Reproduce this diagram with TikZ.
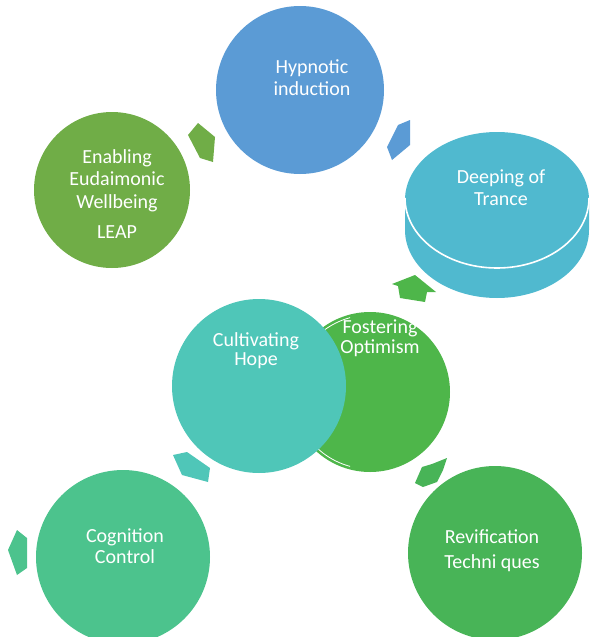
\documentclass[tikz,border=0pt]{standalone}
\usepackage{fontspec}
\setmainfont{Carlito}
\definecolor{cblue}{HTML}{5B9BD5}
\definecolor{cleap}{HTML}{70AD47}
\definecolor{ctrance}{HTML}{50B9CF}
\definecolor{coptim}{HTML}{4EB64A}
\definecolor{chope}{HTML}{4FC6B8}
\definecolor{ccog}{HTML}{4CC38D}
\definecolor{crevif}{HTML}{48B457}
\newcommand{\lines}[2]{{\fontsize{20}{#1}\selectfont\setlength{\tabcolsep}{0pt}\renewcommand{\arraystretch}{1}\begin{tabular}[t]{c}#2\end{tabular}}}
\begin{document}
\begin{tikzpicture}[x=1pt,y=-1pt,
  lbl/.style={text=white, inner sep=0pt, anchor=base}]
\useasboundingbox (0,0) rectangle (590,637);
% circles
\fill[cleap] (112,190) circle[radius=78];
\node[lbl] (leap) at (117,163) {\lines{22.5}{Enabling\\Eudaimonic\\Wellbeing\\[7.5pt]LEAP}};
\fill[cblue] (300,90) circle[radius=84];
\node[lbl] (hyp) at (312,73) {\lines{22}{Hypnotic\\induction}};
% deeping of trance disc
\fill[ctrance] (405,200) -- (405,230) arc[start angle=180,end angle=0,x radius=92,y radius=68] -- (589,200) -- cycle;
\fill[ctrance] (497,200) ellipse[x radius=92,y radius=68];
\draw[white,line width=1.6pt] (405,198) arc[start angle=180,end angle=0,x radius=92,y radius=70];
\node[lbl] (trance) at (501,183) {\lines{22}{Deeping of\\Trance}};
% fostering optimism
\fill[coptim] (370,392) circle[radius=80];
\draw[white,line width=0.8pt] (370,392) ++(105:77) arc[start angle=105,end angle=255,radius=77];
\node[lbl] (optim) at (380,333) {\lines{20}{Fostering\\Optimism}};
% cultivating hope
\fill[chope] (259,386) circle[radius=87];
\node[lbl] (hope) at (256,346) {\lines{19.5}{Cultivating\\Hope}};
% cognition control
\fill[ccog] (123,557) circle[radius=87];
\node[lbl] (cog) at (125,542) {\lines{21}{Cognition\\Control}};
% revification
\fill[crevif] (495,553) circle[radius=87];
\node[lbl] (rev) at (492,543) {\lines{25}{Revification\\Techni ques}};
% block arrows
\fill[cleap] (188,135) -- (198,123) -- (215,137) -- (213,162) -- (200,158) -- cycle;
\fill[cblue] (387,147) -- (398,125) -- (410,120) -- (410,145) -- (392,160) -- cycle;
\fill[coptim] (392,284) -- (415,275) -- (436,292) -- (427,292) -- (425,302) -- (400,298) -- (398,286) -- cycle;
\fill[crevif] (415,483) -- (422,467) -- (432,464) -- (447,458) -- (443,470) -- (437,482) -- (423,487) -- cycle;
\fill[chope] (173,455) -- (187,452) -- (210,468) -- (208,482) -- (182,475) -- cycle;
\fill[ccog] (8,550) -- (17,530) -- (27,538) -- (27,568) -- (17,575) -- cycle;
\end{tikzpicture}
\end{document}
